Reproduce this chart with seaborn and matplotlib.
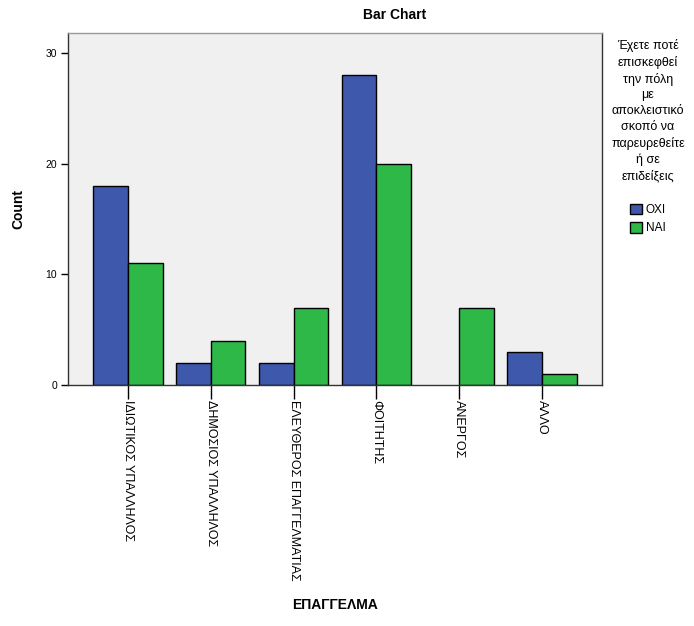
import pandas as pd
import matplotlib.pyplot as plt
import seaborn as sns
from matplotlib.patches import Patch

# Data
occupations = ["ΙΔΙΩΤΙΚΟΣ ΥΠΑΛΛΗΛΟΣ", "ΔΗΜΟΣΙΟΣ ΥΠΑΛΛΗΛΟΣ",
               "ΕΛΕΥΘΕΡΟΣ ΕΠΑΓΓΕΛΜΑΤΙΑΣ", "ΦΟΙΤΗΤΗΣ", "ΑΝΕΡΓΟΣ", "ΑΛΛΟ"]
answers = ["ΟΧΙ", "ΝΑΙ"]
counts_oxi = [18, 2, 2, 28, 0, 3]
counts_nai = [11, 4, 7, 20, 7, 1]
legend_title = ("Έχετε ποτέ\nεπισκεφθεί\nτην πόλη\nμε\nαποκλειστικό\n"
                "σκοπό να\nπαρευρεθείτε\nή σε\nεπιδείξεις")

df = pd.DataFrame({
    "ΕΠΑΓΓΕΛΜΑ": occupations * 2,
    "answer": [answers[0]] * 6 + [answers[1]] * 6,
    "Count": counts_oxi + counts_nai,
})

sns.set_style("white")
plt.rcParams['font.family'] = ['Liberation Sans', 'DejaVu Sans']
plt.rcParams['text.color'] = "black"

colors = {"ΟΧΙ": "#3e58ac", "ΝΑΙ": "#2eb848"}

fig = plt.figure(figsize=(6.94, 6.26), dpi=100)
ax = fig.add_axes([68 / 694, 1 - 385 / 626, (602 - 68) / 694, (385 - 33) / 626])

sns.barplot(data=df, x="ΕΠΑΓΓΕΛΜΑ", y="Count", hue="answer", order=occupations,
            hue_order=answers, palette=colors, width=0.84, errorbar=None,
            edgecolor="black", linewidth=1, saturation=1, ax=ax, legend=False)

# hide outline of empty bars
for p in ax.patches:
    if p.get_height() == 0:
        p.set_linewidth(0)

ax.set_facecolor("#f0f0f0")
ax.set_xlim(-0.72, 5.72)
ax.set_ylim(0, 31.8)
ax.set_yticks([0, 10, 20, 30])
ax.tick_params(axis="y", left=True, direction="out", length=5, width=1,
               labelsize=7.5, color="black", labelcolor="black", pad=3)
ax.tick_params(axis="x", bottom=True, direction="out", length=10, width=1,
               labelsize=9, color="black", labelcolor="black", pad=1)
ax.set_xticks(range(len(occupations)))
ax.set_xticklabels(occupations, rotation=270, va="top", ha="center")
for s in ax.spines.values():
    s.set_color("#333333")
    s.set_linewidth(1)
ax.spines["top"].set_color("#999999")

ax.set_ylabel("Count", fontsize=10, fontweight="bold", labelpad=14, color="black")
ax.set_xlabel("")
fig.text(335 / 694, 1 - 605 / 626, "ΕΠΑΓΓΕΛΜΑ", fontsize=10, fontweight="bold",
         ha="center", va="center")
fig.text(395 / 694, 1 - 15 / 626, "Bar Chart", fontsize=10, fontweight="bold",
         ha="center", va="center")

# legend
handles = [Patch(facecolor=colors[a], edgecolor="black", label=a) for a in answers]
leg = fig.legend(handles=handles, title=legend_title + "\n", loc="upper center",
                 bbox_to_anchor=(648 / 694, 1 - 34 / 626), frameon=False,
                 fontsize=8.5, title_fontsize=9, handlelength=1.0, handleheight=1.0,
                 handletextpad=0.3, labelspacing=0.5, borderaxespad=0)
leg.get_title().set_multialignment("center")
leg.get_title().set_linespacing(1.4)

fig.savefig("out.png", dpi=100)
